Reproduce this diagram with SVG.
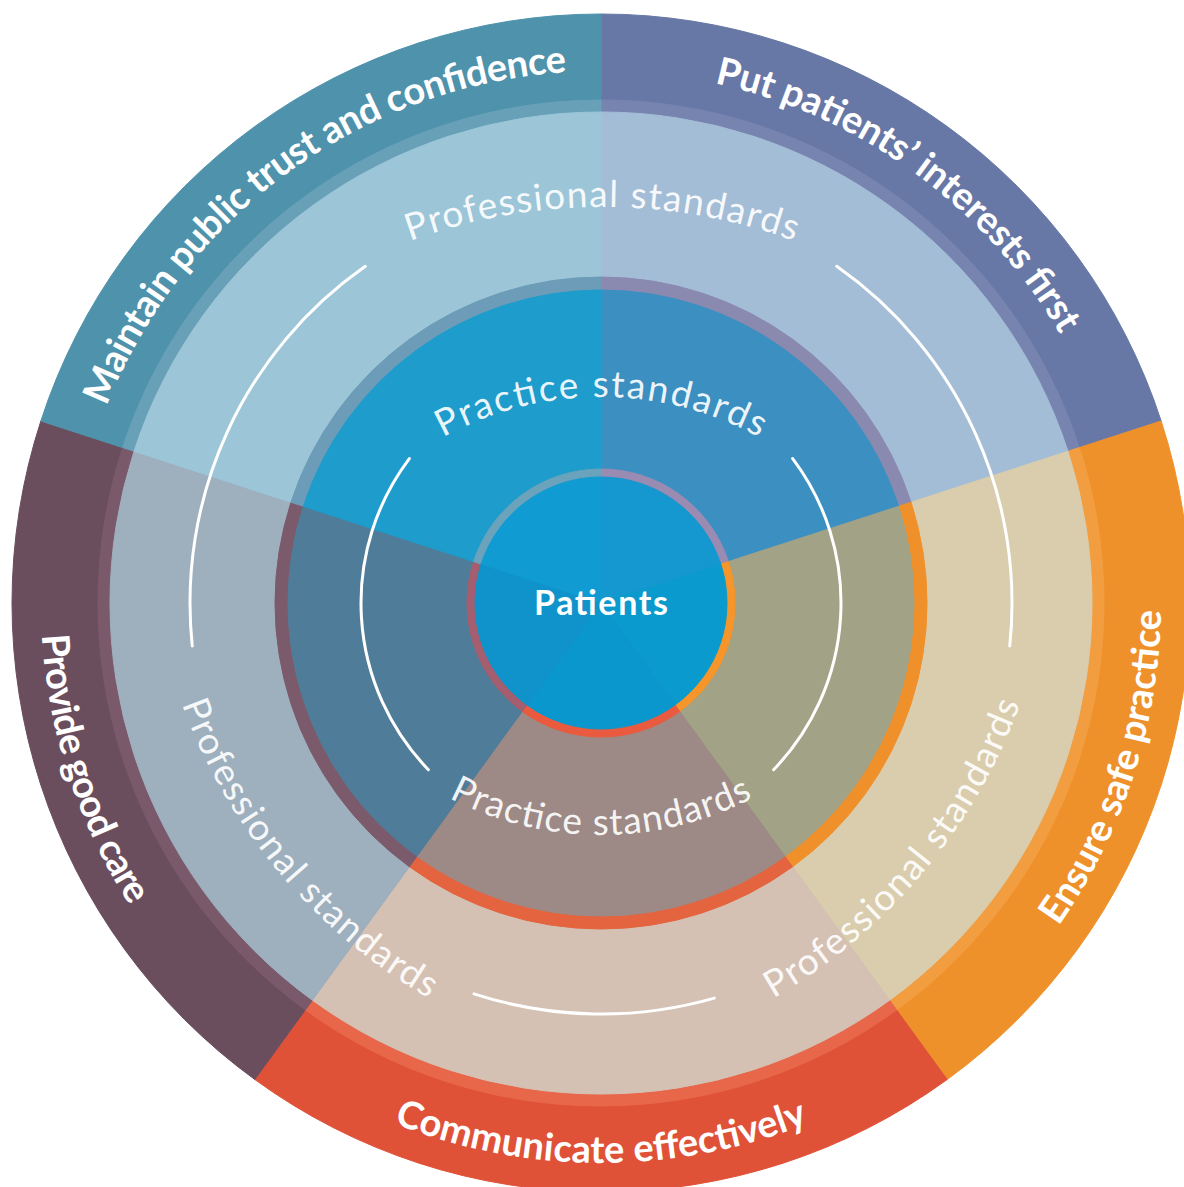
<svg xmlns="http://www.w3.org/2000/svg" width="1184" height="1187" viewBox="0 0 1184 1187">
<style>
.w{fill:currentColor;stroke:currentColor;stroke-width:1;stroke-linejoin:round}
.out{font-family:Lato,"Open Sans","Liberation Sans",sans-serif;font-weight:700;font-size:38px;fill:#fff}
.ring{font-family:Lato,"Open Sans","Liberation Sans",sans-serif;font-weight:400;font-size:37px;fill:#fff;fill-opacity:0.92}
.ctr{font-family:Lato,"Open Sans","Liberation Sans",sans-serif;font-weight:700;font-size:34px;fill:#fff}
.arc{fill:none;stroke:#fff;stroke-width:3;stroke-linecap:round}
</style>
<defs>
<path id="pE" d="M122.84 836.21 A532 532 0 0 1 970.56 220.31"/>
<path id="pA" d="M231.44 220.31 A532 532 0 0 1 1079.16 836.21"/>
<path id="pB" d="M523.06 1157.55 A560 560 0 0 0 863.90 108.55"/>
<path id="pC" d="M49.51 700.24 A560 560 0 0 0 1152.49 700.24"/>
<path id="pD" d="M338.10 108.55 A560 560 0 0 0 678.94 1157.55"/>
<path id="profTop" d="M117.03 487 A560 560 0 0 1 1086.97 487"/>
<path id="profBL" d="M182.02 321.48 A560 560 0 0 0 805.49 1064.50"/>
<path id="profBR" d="M396.51 1064.50 A560 560 0 0 0 1019.98 321.48"/>
<path id="pracTop" d="M315.21 562 A330 330 0 0 1 886.79 562"/>
<path id="pracBot" d="M315.21 670 A330 330 0 0 0 886.79 670"/>
</defs>

<g id="outer-ring">
<path class="w" color="#6878a6" d="M601 603 L601 14 A589 589 0 0 1 1161.17 420.99 Z"/>
<path class="w" color="#ee912b" d="M601 603 L1161.17 420.99 A589 589 0 0 1 947.21 1079.51 Z"/>
<path class="w" color="#e05238" d="M601 603 L947.21 1079.51 A589 589 0 0 1 254.79 1079.51 Z"/>
<path class="w" color="#6b4e5e" d="M601 603 L254.79 1079.51 A589 589 0 0 1 40.83 420.99 Z"/>
<path class="w" color="#4f92ab" d="M601 603 L40.83 420.99 A589 589 0 0 1 601 14 Z"/>
</g>
<g id="outer-band">
<path class="w" color="#7884b0" d="M601 603 L601 100 A503 503 0 0 1 1079.38 447.56 Z"/>
<path class="w" color="#f29e40" d="M601 603 L1079.38 447.56 A503 503 0 0 1 896.66 1009.94 Z"/>
<path class="w" color="#e8674a" d="M601 603 L896.66 1009.94 A503 503 0 0 1 305.34 1009.94 Z"/>
<path class="w" color="#7a5a6a" d="M601 603 L305.34 1009.94 A503 503 0 0 1 122.62 447.56 Z"/>
<path class="w" color="#68a0b8" d="M601 603 L122.62 447.56 A503 503 0 0 1 601 100 Z"/>
</g>
<g id="professional-ring">
<path class="w" color="#a4bdd6" d="M601 603 L601 112 A491 491 0 0 1 1067.97 451.27 Z"/>
<path class="w" color="#d9cdae" d="M601 603 L1067.97 451.27 A491 491 0 0 1 889.60 1000.23 Z"/>
<path class="w" color="#d5c1b3" d="M601 603 L889.60 1000.23 A491 491 0 0 1 312.40 1000.23 Z"/>
<path class="w" color="#9eafbe" d="M601 603 L312.40 1000.23 A491 491 0 0 1 134.03 451.27 Z"/>
<path class="w" color="#9cc6d8" d="M601 603 L134.03 451.27 A491 491 0 0 1 601 112 Z"/>
</g>
<g id="practice-ring">
<path class="w" color="#8a8ab0" d="M601 603 L601 277 A326 326 0 0 1 911.05 502.26 Z"/>
<path class="w" color="#f0902a" d="M601 603 L911.05 502.26 A326 326 0 0 1 792.62 866.74 Z"/>
<path class="w" color="#e4643f" d="M601 603 L792.62 866.74 A326 326 0 0 1 409.38 866.74 Z"/>
<path class="w" color="#7b5b6b" d="M601 603 L409.38 866.74 A326 326 0 0 1 290.95 502.26 Z"/>
<path class="w" color="#6c9cb8" d="M601 603 L290.95 502.26 A326 326 0 0 1 601 277 Z"/>
<path class="w" color="#3b90c1" d="M601 603 L601 290 A313 313 0 0 1 898.68 506.28 Z"/>
<path class="w" color="#a2a286" d="M601 603 L898.68 506.28 A313 313 0 0 1 784.98 856.22 Z"/>
<path class="w" color="#9d8a86" d="M601 603 L784.98 856.22 A313 313 0 0 1 417.02 856.22 Z"/>
<path class="w" color="#4f7d99" d="M601 603 L417.02 856.22 A313 313 0 0 1 303.32 506.28 Z"/>
<path class="w" color="#1e9ccc" d="M601 603 L303.32 506.28 A313 313 0 0 1 601 290 Z"/>
</g>
<g id="patients">
<path class="w" color="#9a8bb2" d="M601 603 L601 469 A134 134 0 0 1 728.44 561.59 Z"/>
<path class="w" color="#f5952a" d="M601 603 L728.44 561.59 A134 134 0 0 1 679.76 711.41 Z"/>
<path class="w" color="#ea5a3e" d="M601 603 L679.76 711.41 A134 134 0 0 1 522.24 711.41 Z"/>
<path class="w" color="#a45e70" d="M601 603 L522.24 711.41 A134 134 0 0 1 473.56 561.59 Z"/>
<path class="w" color="#6aa3bb" d="M601 603 L473.56 561.59 A134 134 0 0 1 601 469 Z"/>
<path class="w" color="#1597cf" d="M601 603 L601 477 A126 126 0 0 1 720.83 564.06 Z"/>
<path class="w" color="#0a9acd" d="M601 603 L720.83 564.06 A126 126 0 0 1 675.06 704.94 Z"/>
<path class="w" color="#0a97cd" d="M601 603 L675.06 704.94 A126 126 0 0 1 526.94 704.94 Z"/>
<path class="w" color="#0f93ca" d="M601 603 L526.94 704.94 A126 126 0 0 1 481.17 564.06 Z"/>
<path class="w" color="#109bd2" d="M601 603 L481.17 564.06 A126 126 0 0 1 601 477 Z"/>
<text class="ctr" x="601" y="615" text-anchor="middle" textLength="134" lengthAdjust="spacing">Patients</text>
</g>
<g id="arcs">
<path class="arc" d="M192.25 645.96 A411 411 0 0 1 365.26 266.33"/>
<path class="arc" d="M836.74 266.33 A411 411 0 0 1 1009.75 645.96"/>
<path class="arc" d="M714.29 998.08 A411 411 0 0 1 473.99 993.89"/>
<path class="arc" d="M428.36 769.72 A240 240 0 0 1 409.33 458.56"/>
<path class="arc" d="M792.67 458.56 A240 240 0 0 1 773.64 769.72"/>
</g>
<g id="outer-labels">
<text class="out" text-anchor="middle"><textPath href="#pE" startOffset="50%" textLength="600" lengthAdjust="spacing">Maintain public trust and confidence</textPath></text>
<text class="out" text-anchor="middle"><textPath href="#pA" startOffset="50%" textLength="440" lengthAdjust="spacing">Put patients’ interests first</textPath></text>
<text class="out" text-anchor="middle"><textPath href="#pB" startOffset="50%" textLength="337" lengthAdjust="spacing">Ensure safe practice</textPath></text>
<text class="out" text-anchor="middle"><textPath href="#pC" startOffset="50%" textLength="425" lengthAdjust="spacing">Communicate effectively</textPath></text>
<text class="out" text-anchor="middle"><textPath href="#pD" startOffset="50%" textLength="288" lengthAdjust="spacing">Provide good care</textPath></text>
</g>
<g id="ring-labels">
<text class="ring" text-anchor="middle"><textPath href="#profTop" startOffset="50%" textLength="392" lengthAdjust="spacing">Professional standards</textPath></text>
<text class="ring" text-anchor="middle"><textPath href="#profBL" startOffset="50%" textLength="392" lengthAdjust="spacing">Professional standards</textPath></text>
<text class="ring" text-anchor="middle"><textPath href="#profBR" startOffset="50%" textLength="392" lengthAdjust="spacing">Professional standards</textPath></text>
<text class="ring" text-anchor="middle"><textPath href="#pracTop" startOffset="50%" textLength="330" lengthAdjust="spacing">Practice standards</textPath></text>
<text class="ring" text-anchor="middle"><textPath href="#pracBot" startOffset="50%" textLength="316" lengthAdjust="spacing">Practice standards</textPath></text>
</g>
</svg>
